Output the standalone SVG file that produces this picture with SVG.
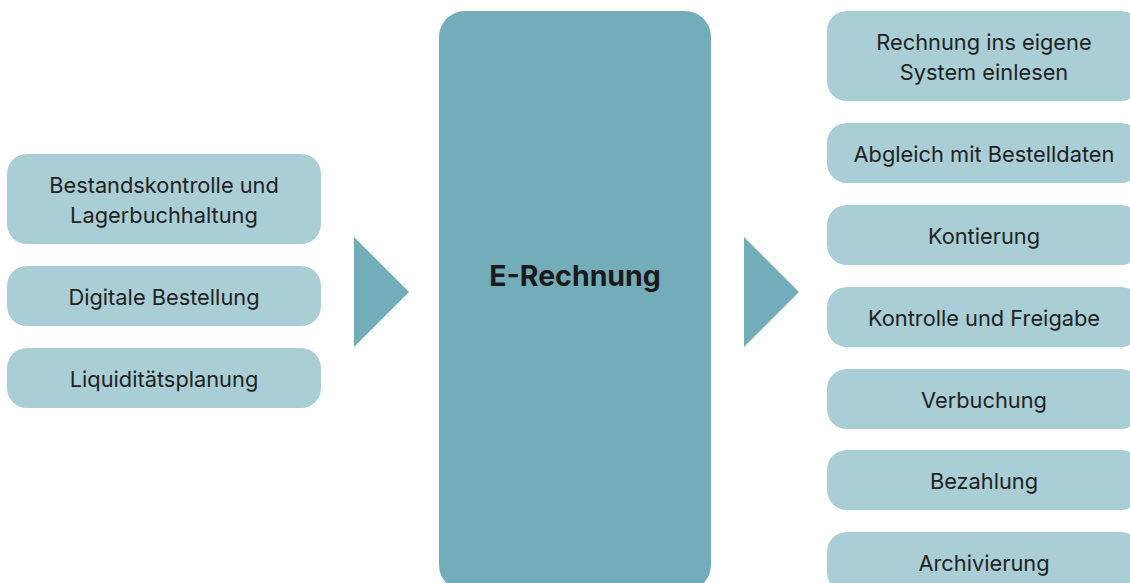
<svg xmlns="http://www.w3.org/2000/svg" width="1130" height="583" viewBox="0 0 1130 583">
<style>
.box{fill:#a9ced5}
.main{fill:#72adb9}
.arr{fill:#72adb9}
.t{font-family:Inter,"Noto Sans",sans-serif;font-size:21.8px;fill:#222;text-anchor:middle}
.tb{font-family:Inter,"Noto Sans",sans-serif;font-size:28.5px;font-weight:700;fill:#1a1a1a;text-anchor:middle}
</style>
<rect width="1130" height="583" fill="#fff"/>
<g id="connectors">
<polygon class="arr" points="354,237 409,292 354,347"/>
<polygon class="arr" points="744,237 799,292 744,347"/>
</g>
<g id="main"><rect class="main" x="439" y="11" width="272" height="580" rx="26"/><text class="tb" x="575" y="286">E-Rechnung</text></g>
<g id="l1"><rect class="box" x="7" y="154" width="314" height="90" rx="20"/><text class="t" x="164" y="193">Bestandskontrolle und</text><text class="t" x="164" y="223">Lagerbuchhaltung</text></g>
<g id="l2"><rect class="box" x="7" y="266" width="314" height="60" rx="20"/><text class="t" x="164" y="305">Digitale Bestellung</text></g>
<g id="l3"><rect class="box" x="7" y="348" width="314" height="60" rx="20"/><text class="t" x="164" y="387">Liquiditätsplanung</text></g>
<g id="r1"><rect class="box" x="827" y="11" width="314" height="90" rx="20"/><text class="t" x="984" y="50">Rechnung ins eigene</text><text class="t" x="984" y="80">System einlesen</text></g>
<g id="r2"><rect class="box" x="827" y="123" width="314" height="60" rx="20"/><text class="t" x="984" y="162">Abgleich mit Bestelldaten</text></g>
<g id="r3"><rect class="box" x="827" y="205" width="314" height="60" rx="20"/><text class="t" x="984" y="244">Kontierung</text></g>
<g id="r4"><rect class="box" x="827" y="287" width="314" height="60" rx="20"/><text class="t" x="984" y="326">Kontrolle und Freigabe</text></g>
<g id="r5"><rect class="box" x="827" y="369" width="314" height="60" rx="20"/><text class="t" x="984" y="408">Verbuchung</text></g>
<g id="r6"><rect class="box" x="827" y="450" width="314" height="60" rx="20"/><text class="t" x="984" y="489">Bezahlung</text></g>
<g id="r7"><rect class="box" x="827" y="532" width="314" height="60" rx="20"/><text class="t" x="984" y="571">Archivierung</text></g>
</svg>
